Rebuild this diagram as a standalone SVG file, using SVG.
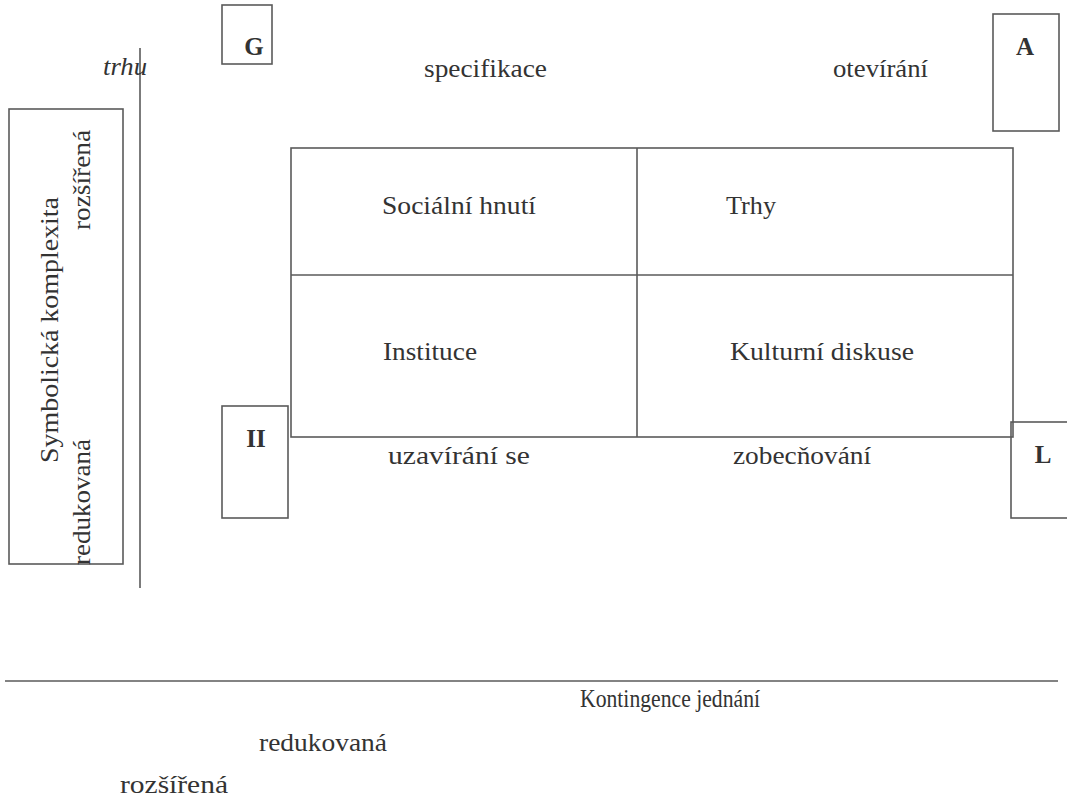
<svg xmlns="http://www.w3.org/2000/svg" width="1067" height="798" viewBox="0 0 1067 798">
  <style>
    .ln { fill: none; stroke: #5a5a5a; stroke-width: 1.6; }
    .t { font-family: "Liberation Serif", "Times New Roman", serif; font-size: 26px; fill: #333; }
    .b { font-family: "Liberation Serif", "Times New Roman", serif; font-size: 25px; font-weight: bold; fill: #333; }
    .i { font-style: italic; }
  </style>
  <rect width="1067" height="798" fill="#ffffff"/>

  <!-- axes and grid lines -->
  <g id="connectors">
    <line class="ln" x1="140" y1="48" x2="140" y2="588"/>
    <line class="ln" x1="5" y1="681" x2="1058" y2="681"/>
    <rect class="ln" x="291" y="148" width="722" height="289"/>
    <line class="ln" x1="637" y1="148" x2="637" y2="437"/>
    <line class="ln" x1="291" y1="275" x2="1013" y2="275"/>
  </g>

  <!-- vertical axis label box -->
  <g id="axis-symbolic">
    <rect class="ln" x="9" y="109" width="114" height="455"/>
    <text class="t" transform="translate(58,463) rotate(-90)" textLength="266" lengthAdjust="spacingAndGlyphs">Symbolická komplexita</text>
    <text class="t" transform="translate(90,230) rotate(-90)" textLength="100" lengthAdjust="spacingAndGlyphs">rozšířená</text>
    <text class="t" transform="translate(90,565) rotate(-90)" textLength="126" lengthAdjust="spacingAndGlyphs">redukovaná</text>
  </g>

  <g id="label-trhu">
    <text class="t i" x="103" y="75" textLength="44" lengthAdjust="spacingAndGlyphs">trhu</text>
  </g>

  <!-- corner function boxes -->
  <g id="box-G">
    <rect class="ln" x="222" y="5" width="50" height="59"/>
    <text class="b" x="254" y="55" text-anchor="middle">G</text>
  </g>
  <g id="box-A">
    <rect class="ln" x="993" y="14" width="66" height="117"/>
    <text class="b" x="1025" y="55" text-anchor="middle">A</text>
  </g>
  <g id="box-I">
    <rect class="ln" x="222" y="406" width="66" height="112"/>
    <text class="b" x="256" y="447" text-anchor="middle">II</text>
  </g>
  <g id="box-L">
    <rect class="ln" x="1011" y="422" width="70" height="96"/>
    <text class="b" x="1043" y="463" text-anchor="middle">L</text>
  </g>

  <!-- process labels -->
  <g id="label-specifikace">
    <text class="t" x="424" y="77" textLength="123" lengthAdjust="spacingAndGlyphs">specifikace</text>
  </g>
  <g id="label-otevirani">
    <text class="t" x="833" y="77" textLength="95" lengthAdjust="spacingAndGlyphs">otevírání</text>
  </g>
  <g id="label-uzavirani">
    <text class="t" x="388" y="464" textLength="142" lengthAdjust="spacingAndGlyphs">uzavírání se</text>
  </g>
  <g id="label-zobecnovani">
    <text class="t" x="733" y="464" textLength="138" lengthAdjust="spacingAndGlyphs">zobecňování</text>
  </g>

  <!-- quadrant cells -->
  <g id="cell-socialni-hnuti">
    <text class="t" x="382" y="214" textLength="154" lengthAdjust="spacingAndGlyphs">Sociální hnutí</text>
  </g>
  <g id="cell-trhy">
    <text class="t" x="726" y="214" textLength="50" lengthAdjust="spacingAndGlyphs">Trhy</text>
  </g>
  <g id="cell-instituce">
    <text class="t" x="383" y="360" textLength="94" lengthAdjust="spacingAndGlyphs">Instituce</text>
  </g>
  <g id="cell-kulturni-diskuse">
    <text class="t" x="730" y="360" textLength="184" lengthAdjust="spacingAndGlyphs">Kulturní diskuse</text>
  </g>

  <!-- horizontal axis labels -->
  <g id="axis-contingency">
    <text class="t" x="580" y="707" textLength="180" lengthAdjust="spacingAndGlyphs">Kontingence jednání</text>
    <text class="t" x="259" y="751" textLength="128" lengthAdjust="spacingAndGlyphs">redukovaná</text>
    <text class="t" x="120" y="793" textLength="108" lengthAdjust="spacingAndGlyphs">rozšířená</text>
  </g>
</svg>
